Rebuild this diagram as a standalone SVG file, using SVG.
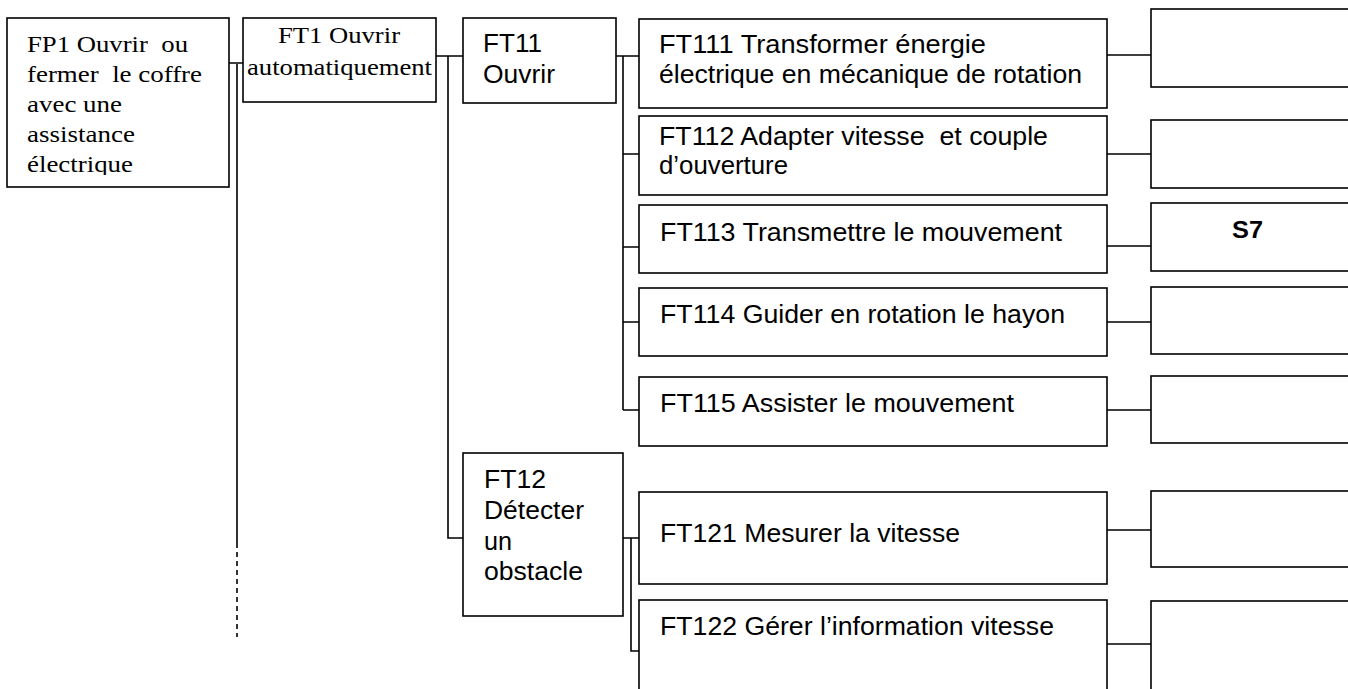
<svg xmlns="http://www.w3.org/2000/svg" width="1348" height="689" viewBox="0 0 1348 689">
<style>
.box{fill:#fff;stroke:#000;stroke-width:1.6}
.ln{fill:none;stroke:#000;stroke-width:1.6}
.t{font-family:"Liberation Serif","Times New Roman",serif;font-size:24px;fill:#000}
.a{font-family:"Liberation Sans",Arial,sans-serif;font-size:25px;fill:#000}
.b{font-family:"Liberation Sans",Arial,sans-serif;font-size:23px;font-weight:bold;fill:#000}
</style>
<defs>
<clipPath id="fp1clip"><rect x="7" y="18" width="222" height="157"/></clipPath>
</defs>
<rect width="1348" height="689" fill="#fff"/>
<g id="connectors">
<path class="ln" d="M229,63 H243 M237,64 V543"/>
<path class="ln" d="M237,543 V637" stroke-dasharray="5,4"/>
<path class="ln" d="M436,56 H463 M448,56 V538 H463"/>
<path class="ln" d="M616,56 H639 M623,56 V410 M623,154 H639 M623,247 H639 M623,322 H639 M623,410 H639"/>
<path class="ln" d="M623,538 H639 M631,538 V651 H639"/>
<path class="ln" d="M1107,55 H1151 M1107,154 H1151 M1107,246 H1151 M1107,322 H1151 M1107,410 H1151 M1107,530 H1151 M1107,644 H1151"/>
</g>
<g id="FP1">
<rect class="box" x="7" y="18" width="222" height="169"/>
<g clip-path="url(#fp1clip)">
<text class="t" x="27" y="52" textLength="161" lengthAdjust="spacingAndGlyphs" xml:space="preserve">FP1 Ouvrir  ou</text>
<text class="t" x="27" y="82" textLength="175" lengthAdjust="spacingAndGlyphs" xml:space="preserve">fermer  le coffre</text>
<text class="t" x="27" y="112" textLength="95" lengthAdjust="spacingAndGlyphs">avec une</text>
<text class="t" x="27" y="142" textLength="108" lengthAdjust="spacingAndGlyphs">assistance</text>
<text class="t" x="27" y="172" textLength="106" lengthAdjust="spacingAndGlyphs">électrique</text>
</g>
</g>
<g id="FT1">
<rect class="box" x="243" y="18" width="193" height="84"/>
<text class="t" x="278" y="43" textLength="122" lengthAdjust="spacingAndGlyphs">FT1 Ouvrir</text>
<text class="t" x="247" y="75" textLength="185" lengthAdjust="spacingAndGlyphs">automatiquement</text>
</g>
<g id="FT11">
<rect class="box" x="463" y="18" width="153" height="85"/>
<text class="a" x="483" y="52" textLength="59" lengthAdjust="spacingAndGlyphs">FT11</text>
<text class="a" x="483" y="83" textLength="72" lengthAdjust="spacingAndGlyphs">Ouvrir</text>
</g>
<g id="FT12">
<rect class="box" x="463" y="453" width="160" height="163"/>
<text class="a" x="484" y="488" textLength="62" lengthAdjust="spacingAndGlyphs">FT12</text>
<text class="a" x="484" y="519" textLength="100" lengthAdjust="spacingAndGlyphs">Détecter</text>
<text class="a" x="484" y="550" textLength="28" lengthAdjust="spacingAndGlyphs">un</text>
<text class="a" x="484" y="580" textLength="99" lengthAdjust="spacingAndGlyphs">obstacle</text>
</g>
<g id="FT111">
<rect class="box" x="639" y="19" width="468" height="89"/>
<text class="a" x="659" y="53" textLength="327" lengthAdjust="spacingAndGlyphs">FT111 Transformer énergie</text>
<text class="a" x="659" y="83" textLength="423" lengthAdjust="spacingAndGlyphs">électrique en mécanique de rotation</text>
</g>
<g id="FT112">
<rect class="box" x="639" y="116" width="468" height="79"/>
<text class="a" x="659" y="145" textLength="389" lengthAdjust="spacingAndGlyphs" xml:space="preserve">FT112 Adapter vitesse  et couple</text>
<text class="a" x="659" y="174" textLength="129" lengthAdjust="spacingAndGlyphs">d’ouverture</text>
</g>
<g id="FT113">
<rect class="box" x="639" y="205" width="468" height="68"/>
<text class="a" x="660" y="241" textLength="402" lengthAdjust="spacingAndGlyphs">FT113 Transmettre le mouvement</text>
</g>
<g id="FT114">
<rect class="box" x="639" y="288" width="468" height="68"/>
<text class="a" x="660" y="323" textLength="405" lengthAdjust="spacingAndGlyphs">FT114 Guider en rotation le hayon</text>
</g>
<g id="FT115">
<rect class="box" x="639" y="377" width="468" height="69"/>
<text class="a" x="660" y="412" textLength="354" lengthAdjust="spacingAndGlyphs">FT115 Assister le mouvement</text>
</g>
<g id="FT121">
<rect class="box" x="639" y="492" width="468" height="92"/>
<text class="a" x="660" y="542" textLength="300" lengthAdjust="spacingAndGlyphs">FT121 Mesurer la vitesse</text>
</g>
<g id="FT122">
<rect class="box" x="639" y="600" width="468" height="120"/>
<text class="a" x="660" y="635" textLength="394" lengthAdjust="spacingAndGlyphs">FT122 Gérer l’information vitesse</text>
</g>
<g id="S111"><rect class="box" x="1151" y="9" width="220" height="78"/></g>
<g id="S112"><rect class="box" x="1151" y="120" width="220" height="68"/></g>
<g id="S7">
<rect class="box" x="1151" y="203" width="220" height="68"/>
<text class="b" x="1232" y="238" textLength="31" lengthAdjust="spacingAndGlyphs">S7</text>
</g>
<g id="S114"><rect class="box" x="1151" y="287" width="220" height="67"/></g>
<g id="S115"><rect class="box" x="1151" y="376" width="220" height="67"/></g>
<g id="S121"><rect class="box" x="1151" y="491" width="220" height="76"/></g>
<g id="S122"><rect class="box" x="1151" y="601" width="220" height="120"/></g>
</svg>
